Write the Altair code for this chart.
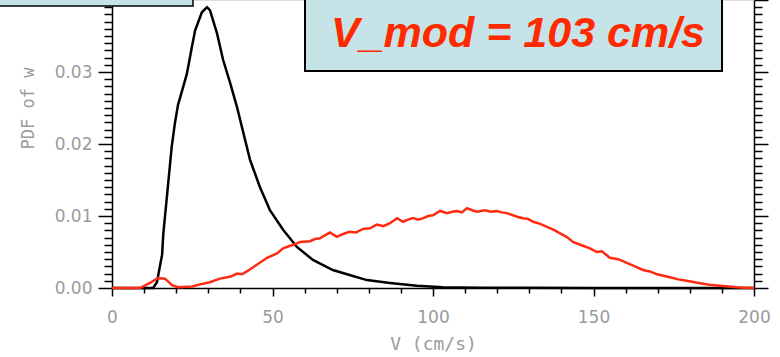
import altair as alt
import pandas as pd

# Black curve (PDF of w, observed)
v_black = [0, 5, 10, 12.8, 14, 15, 15.6, 16, 17, 18.6, 19.6, 20.6, 21.2, 23.3, 24.9, 25.9, 28, 29.6, 30.5,
           32.7, 34.6, 36.8, 38.9, 42, 43, 46.1, 49.2, 53.3, 57.6, 62.6, 68.8, 74, 79.4, 86.6, 95,
           103, 115, 130, 150, 175, 200]
pdf_black = [0, 0, 0, 0.0, 0.0008, 0.0032, 0.0046, 0.0076, 0.0122, 0.0196, 0.0229, 0.0255, 0.0264, 0.0297,
             0.0335, 0.0358, 0.0383, 0.0390, 0.0386, 0.0354, 0.0317, 0.0285, 0.0252, 0.0196, 0.0178,
             0.0140, 0.0108, 0.0081, 0.0057, 0.0039, 0.0025, 0.0018, 0.0011, 0.0007, 0.0003,
             0.0001, 0.00005, 0.00002, 0.0, 0.0, 0.0]

# Red curve (V_mod)
v_red = [0, 5, 8.7, 11.8, 14.3, 16.5, 18.7, 20.6, 25, 27.4, 30.5, 33.6, 37, 39, 40.5, 42, 45, 48.3,
         51.4, 53.3, 56.4, 58.6, 61.7, 63.2, 64.8, 66.3, 67.9, 70, 72, 74, 76, 78.2, 80.4, 82.5, 84.5,
         86.6, 88.8, 90.7, 92.2, 93.8, 95.4, 97, 98.5, 100, 102.2, 104.4, 106, 107.5, 109, 110.6,
         112.2, 113.7, 116.2, 118, 119.9, 121.5, 123, 126.2, 128, 129.6, 131.2, 133.4, 135.5, 137.5,
         139.6, 141.6, 143.6, 146.5, 148.9, 151, 152.6, 155.1, 157.7, 160.4, 162.9, 165.4, 167.6,
         169.8, 171.8, 173.8, 176.4, 179, 181.5, 184.1, 186.8, 189.4, 192, 194.7, 197, 200]
pdf_red = [0, 0, 0, 0.0007, 0.0014, 0.0013, 0.0004, 0.0001, 0.0002, 0.0005, 0.0008, 0.0013, 0.0016,
           0.0020, 0.0019, 0.0023, 0.0032, 0.0042, 0.0048, 0.0055, 0.0060, 0.0064, 0.0065, 0.0068,
           0.0069, 0.0073, 0.0077, 0.0071, 0.0075, 0.0078, 0.0077, 0.0082, 0.0083, 0.0088, 0.0086,
           0.0090, 0.0097, 0.0092, 0.0095, 0.0097, 0.0095, 0.0097, 0.0100, 0.0101, 0.0107, 0.0104,
           0.0106, 0.0107, 0.0105, 0.0111, 0.0108, 0.0106, 0.0108, 0.0106, 0.0107, 0.0105, 0.0104,
           0.0099, 0.0097, 0.0096, 0.0092, 0.0089, 0.0085, 0.0081, 0.0076, 0.0071, 0.0064, 0.0059,
           0.0055, 0.0050, 0.0051, 0.0042, 0.0040, 0.0035, 0.0030, 0.0025, 0.0023, 0.0019, 0.0017,
           0.0015, 0.0012, 0.0010, 0.0008, 0.0006, 0.0004, 0.0003, 0.0002, 0.0001, 0.00005, 0.0]

annotation = "V_mod = 103 cm/s"

x_ticks = list(range(0, 201, 10))
y_ticks = [round(i * 0.001, 3) for i in range(0, 41)]

black_df = pd.DataFrame({"v": v_black, "pdf": pdf_black})
red_df = pd.DataFrame({"v": v_red, "pdf": pdf_red})
one = pd.DataFrame({"a": [0]})

W, H = 642, 288
LABEL = "#9a9a9a"
is_major_y = "abs(datum.value*100 - round(datum.value*100)) < 1e-6"

x_scale = alt.Scale(domain=[0, 200], nice=False, zero=False)
y_scale = alt.Scale(domain=[0, 0.04], nice=False)

x_axis = alt.Axis(
    values=x_ticks,
    labelExpr="datum.value % 50 === 0 ? datum.label : ''",
    tickSize={"condition": {"test": "datum.value % 50 === 0", "value": 8}, "value": 5},
    tickColor="black", tickWidth=1.5, domainColor="black", domainWidth=1.5,
    labelColor=LABEL, labelFont="DejaVu Sans", labelFontSize=17, labelPadding=13,
    labelFlush=False, labelOverlap=False,
    title="V (cm/s)", titleFont="DejaVu Sans Mono", titleFontSize=18, titleFontWeight="normal",
    titleColor=LABEL, titlePadding=10, grid=False,
)

y_axis_left = alt.Axis(
    values=y_ticks,
    labelExpr=f"{is_major_y} && datum.value < 0.035 ? format(datum.value, '.2f') : ''",
    tickSize={"condition": {"test": is_major_y, "value": 14}, "value": 8},
    tickColor="black", tickWidth=1.5, domainColor="black", domainWidth=1.5,
    labelColor=LABEL, labelFont="DejaVu Sans", labelFontSize=17, labelPadding=6,
    labelFlush=False, labelOverlap=False,
    title="PDF of w", titleFont="DejaVu Sans Mono", titleFontSize=17, titleFontWeight="normal",
    titleColor=LABEL, titleX=-84, titleY=108, titleAngle=270, titleBaseline="middle",
    titleAlign="center", grid=False,
)

y_axis_right = alt.Axis(
    values=y_ticks, orient="right", labels=False, title=None,
    tickSize={"condition": {"test": is_major_y, "value": 14}, "value": 8},
    tickColor="black", tickWidth=1.5, domainColor="black", domainWidth=1.5, grid=False,
)

black_line = alt.Chart(black_df).mark_line(color="black", strokeWidth=2.5).encode(
    x=alt.X("v:Q", scale=x_scale, axis=x_axis),
    y=alt.Y("pdf:Q", scale=y_scale, axis=y_axis_left),
)

red_line = alt.Chart(red_df).mark_line(color="#ff2a10", strokeWidth=2.5).encode(
    x=alt.X("v:Q", scale=x_scale, axis=x_axis),
    y=alt.Y("pdf:Q", scale=y_scale, axis=y_axis_right),
)

box_fill = "#c6e4e8"
box_left = alt.Chart(one).mark_rect(fill=box_fill, stroke="black", strokeWidth=1.5).encode(
    x=alt.value(-114), x2=alt.value(81), y=alt.value(-5), y2=alt.value(6)
)
box_right = alt.Chart(one).mark_rect(fill=box_fill, stroke="black", strokeWidth=2).encode(
    x=alt.value(193), x2=alt.value(610), y=alt.value(-5), y2=alt.value(71)
)
box_text = alt.Chart(one).mark_text(
    text=annotation, font="Liberation Sans", fontSize=43, fontWeight="bold", fontStyle="italic",
    color="#ff2a00", align="center", baseline="alphabetic"
).encode(x=alt.value(406), y=alt.value(47))

chart = alt.layer(black_line, red_line, box_left, box_right, box_text).resolve_scale(
    y="independent"
).properties(
    width=W, height=H,
    autosize=alt.AutoSizeParams(type="none"),
    padding={"left": 112, "top": 0, "right": 26, "bottom": 69},
).configure_view(stroke=None).configure(background="white")

chart.save("out.html", embed_options={"renderer": "svg", "actions": False})
